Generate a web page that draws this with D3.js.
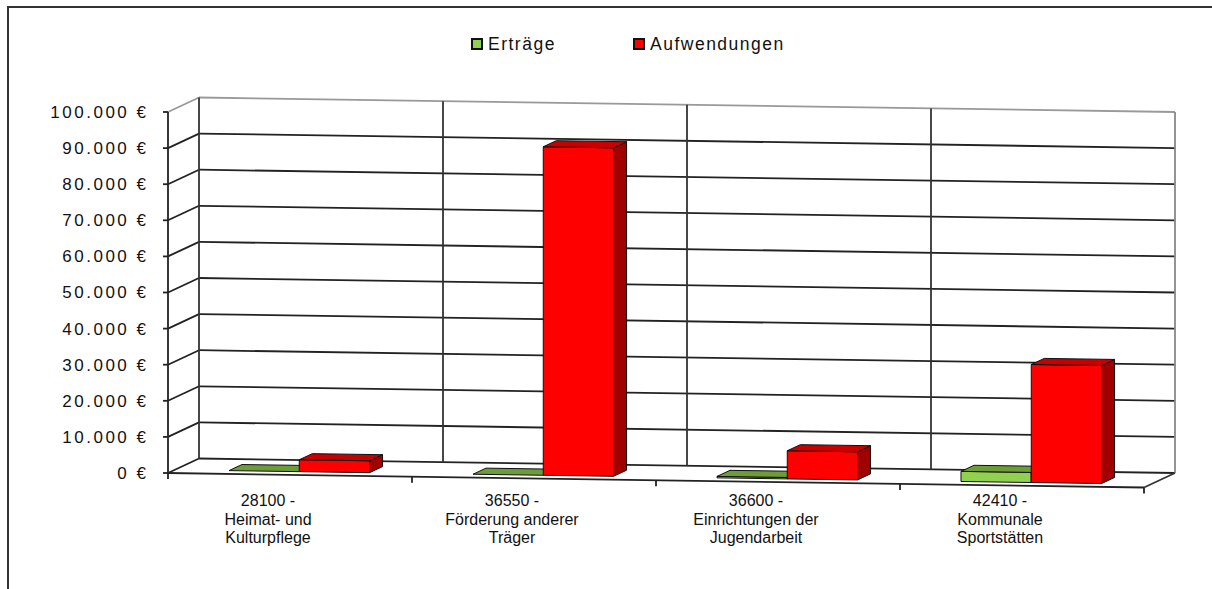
<!DOCTYPE html>
<html>
<head>
<meta charset="utf-8">
<script src="https://cdn.jsdelivr.net/npm/d3@7.9.0/dist/d3.min.js"></script>
<style>
  body { margin: 0; background: #fff; }
  svg { display: block; font-family: "Liberation Sans", Arial, sans-serif; }
</style>
</head>
<body>
<svg width="1212" height="589"></svg>
<script>
// data
const categories = [
  ["28100 -", "Heimat- und", "Kulturpflege"],
  ["36550 -", "Förderung anderer", "Träger"],
  ["36600 -", "Einrichtungen der", "Jugendarbeit"],
  ["42410 -", "Kommunale", "Sportstätten"]
];
const ertraege = [0, 0, 400, 2800];
const aufwendungen = [3300, 91000, 7800, 32700];
const seriesNames = ["Erträge", "Aufwendungen"];
const yTicks = [0, 10000, 20000, 30000, 40000, 50000, 60000, 70000, 80000, 90000, 100000];

const svg = d3.select("svg");

// outer frame
svg.append("path").attr("d", "M8,589 V7 H1212")
  .attr("fill", "none").attr("stroke", "#333").attr("stroke-width", 2);

// oblique 3d projection
const origin = [168, 473];
const floorW = 976, floorSlope = 14.5 / 976;
const depth = [31, -14.5];

const x = d3.scaleBand().domain(d3.range(categories.length)).range([0, floorW]);
const y = d3.scaleLinear().domain([0, 100000]).range([0, 361]);

function proj(xp, v, d) {
  return [origin[0] + xp + depth[0] * d,
          origin[1] + xp * floorSlope + depth[1] * d - y(v)];
}
const line = d3.line();

const g = svg.append("g");

// walls
function seg(a, b, color, w) {
  g.append("path").attr("d", line([a, b]))
    .attr("stroke", color).attr("stroke-width", w || 1.8).attr("fill", "none");
}
const yMax = 100000;

yTicks.forEach(v => {
  const c = v === yMax ? "#999" : "#222";
  seg(proj(0, v, 0), proj(0, v, 1), c);
  seg(proj(0, v, 1), proj(floorW, v, 1), c);
});
// back wall verticals
seg(proj(0, 0, 1), proj(0, yMax, 1), "#333");
d3.range(1, categories.length).forEach(i => {
  seg(proj(x(i), 0, 1), proj(x(i), yMax, 1), "#333");
});
seg(proj(floorW, 0, 1), proj(floorW, yMax, 1), "#888");
// floor
seg(proj(0, 0, 0), proj(floorW, 0, 0), "#222");
seg(proj(floorW, 0, 0), proj(floorW, 0, 1), "#333");
// value axis
seg(proj(0, 0, 0), proj(0, yMax, 0), "#222");
yTicks.forEach(v => {
  const p = proj(0, v, 0);
  seg([p[0] - 5, p[1]], p, "#222");
});
// category ticks
d3.range(0, categories.length + 1).forEach(i => {
  const p = proj(i === categories.length ? floorW : x(i), 0, 0);
  seg(p, [p[0], p[1] + 6], "#222");
});

// y labels
const ls = 2.5;
svg.append("g").selectAll("text").data(yTicks).join("text")
  .attr("x", 146 + ls)
  .attr("y", d => proj(0, d, 0)[1])
  .attr("dy", "0.35em")
  .attr("text-anchor", "end")
  .attr("font-size", 17)
  .attr("letter-spacing", ls)
  .attr("fill", "#111")
  .text(d => d3.format(",")(d).replace(/,/g, ".") + " €");

// category labels
const catG = svg.append("g").selectAll("text").data(categories).join("text")
  .attr("text-anchor", "middle")
  .attr("font-size", 16)
  .attr("fill", "#111");
catG.selectAll("tspan").data((d, i) => d.map(s => ({ s, i }))).join("tspan")
  .attr("x", d => proj(x(d.i) + x.bandwidth() / 2, 0, 0)[0] - 22)
  .attr("y", (d, j) => 506 + j * 18.5)
  .text(d => d.s);

// bars
const colors = [
  { front: "#92D050", top: "#6E9C38", side: "#5A8A2A" },
  { front: "#FF0000", top: "#C80000", side: "#A00000" }
];
const d0 = 0.22, d1 = 0.64;
const barStart = [0.222, 0.51], barW = 0.288;
const series = [ertraege, aufwendungen];

const bars = svg.append("g");
categories.forEach((c, i) => {
  series.forEach((vals, s) => {
    const v = vals[i];
    const x0 = x(i) + barStart[s] * x.bandwidth();
    const x1 = x0 + barW * x.bandwidth();
    const col = colors[s];
    const poly = (pts, fill) => bars.append("path")
      .attr("d", line(pts) + "Z")
      .attr("fill", fill).attr("stroke", "#111").attr("stroke-width", 1)
      .attr("stroke-linejoin", "round");
    if (v > 0) {
      poly([proj(x0, 0, d0), proj(x1, 0, d0), proj(x1, v, d0), proj(x0, v, d0)], col.front);
      poly([proj(x1, 0, d0), proj(x1, 0, d1), proj(x1, v, d1), proj(x1, v, d0)], col.side);
    }
    poly([proj(x0, v, d0), proj(x1, v, d0), proj(x1, v, d1), proj(x0, v, d1)], col.top);
  });
});

// legend
const legend = svg.append("g");
const legendX = [472, 634];
seriesNames.forEach((name, s) => {
  legend.append("rect")
    .attr("x", legendX[s]).attr("y", 39).attr("width", 10).attr("height", 10)
    .attr("fill", colors[s].front).attr("stroke", "#111").attr("stroke-width", 2);
  legend.append("text")
    .attr("x", legendX[s] + 16).attr("y", 50)
    .attr("font-size", 17.5)
    .attr("letter-spacing", 1.5)
    .attr("fill", "#111")
    .text(name);
});
</script>
</body>
</html>
